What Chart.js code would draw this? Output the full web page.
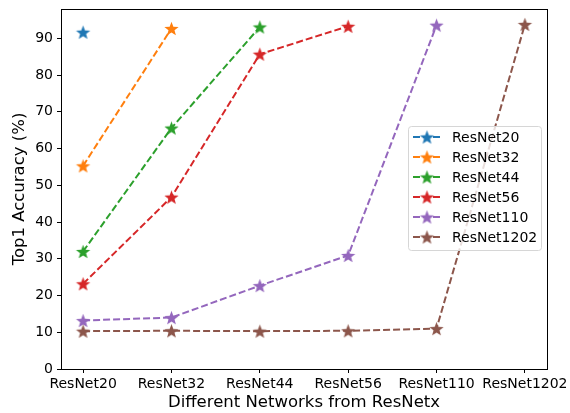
<!DOCTYPE html>
<html>
<head>
<meta charset="utf-8">
<script src="https://cdn.jsdelivr.net/npm/chart.js@4.4.0/dist/chart.umd.min.js"></script>
<style>
  html, body { margin: 0; padding: 0; background: #fff; }
  #wrap { width: 570px; height: 413px; }
</style>
</head>
<body>
<div id="wrap"><canvas id="acc" width="570" height="413"></canvas></div>
<script>
// networks on the x axis
const networks = ["ResNet20", "ResNet32", "ResNet44", "ResNet56", "ResNet110", "ResNet1202"];

// top1 accuracy per trained model, evaluated on each network
const resnet20 = [91.7];
const resnet32 = [55.3, 92.7];
const resnet44 = [32.0, 65.6, 93.1];
const resnet56 = [23.2, 46.8, 85.7, 93.3];
const resnet110 = [13.2, 14.0, 22.7, 30.9, 93.6];
const resnet1202 = [10.3, 10.4, 10.3, 10.4, 11.0, 93.8];

const yTicks = [0, 10, 20, 30, 40, 50, 60, 70, 80, 90];

const seriesNames = ["ResNet20", "ResNet32", "ResNet44", "ResNet56", "ResNet110", "ResNet1202"];
const seriesValues = [resnet20, resnet32, resnet44, resnet56, resnet110, resnet1202];
const colors = ["#1f77b4", "#ff7f0e", "#2ca02c", "#d62728", "#9467bd", "#8c564b"];

const FONT = "'DejaVu Sans', sans-serif";

// filled five-point star, like matplotlib marker "*"
const makeStar = (color, r) => {
    let c = document.createElement("canvas");
    let size = Math.ceil(r * 2 + 2);
    c.width = size;
    c.height = size;
    let ctx = c.getContext("2d");
    let cx = size / 2, cy = size / 2 + r * 0.1;
    let inner = r * 0.42;
    ctx.beginPath();
    for (let i = 0; i < 10; i++) {
        let rad = i % 2 === 0 ? r : inner;
        let a = -Math.PI / 2 + i * Math.PI / 5;
        let px = cx + rad * Math.cos(a);
        let py = cy + rad * Math.sin(a);
        if (i === 0) ctx.moveTo(px, py); else ctx.lineTo(px, py);
    }
    ctx.closePath();
    ctx.fillStyle = color;
    ctx.fill();
    return c;
};

const stars = colors.map((c) => makeStar(c, 7.5));

let datasets = seriesValues.map((vals, i) => ({
    label: seriesNames[i],
    data: vals.map((v, j) => ({ x: j, y: v })),
    borderColor: colors[i],
    backgroundColor: colors[i],
    borderWidth: 2,
    borderDash: [7, 3],
    pointStyle: stars[i],
    pointRadius: 7,
    order: seriesNames.length - i,
}));

// frame around the plot area
const framePlugin = {
    id: "frame",
    afterDatasetsDraw(chart) {
        let { ctx, chartArea: a } = chart;
        ctx.save();
        ctx.strokeStyle = "#000";
        ctx.lineWidth = 1;
        ctx.strokeRect(Math.round(a.left) + 0.5, Math.round(a.top) + 0.5,
            Math.round(a.right - a.left), Math.round(a.bottom - a.top));
        ctx.restore();
    },
};

// legend box inside the plot, right side
const legendPlugin = {
    id: "insideLegend",
    afterDatasetsDraw(chart) {
        let { ctx, chartArea: a } = chart;
        let boxW = 133, rowH = 20;
        let boxH = rowH * seriesNames.length + 4;
        let x0 = a.right - 6 - boxW;
        let y0 = 126;
        ctx.save();
        ctx.beginPath();
        ctx.roundRect(x0 + 0.5, y0 + 0.5, boxW, boxH, 3);
        ctx.fillStyle = "rgba(255,255,255,0.8)";
        ctx.fill();
        ctx.strokeStyle = "#d6d6d6";
        ctx.lineWidth = 1;
        ctx.stroke();
        ctx.font = "14px " + FONT;
        ctx.textBaseline = "middle";
        seriesNames.forEach((name, i) => {
            let y = y0 + 11 + i * rowH;
            ctx.strokeStyle = colors[i];
            ctx.lineWidth = 2;
            ctx.setLineDash([7, 3]);
            ctx.beginPath();
            ctx.moveTo(x0 + 5, y);
            ctx.lineTo(x0 + 33, y);
            ctx.stroke();
            ctx.setLineDash([]);
            let s = stars[i];
            ctx.drawImage(s, x0 + 19 - s.width / 2, y - s.height / 2);
            ctx.fillStyle = "#000";
            ctx.fillText(name, x0 + 44, y + 1);
        });
        ctx.restore();
    },
};

let ctx = document.getElementById("acc").getContext("2d");

let myChart = new Chart(ctx, {
    type: "line",
    data: { datasets: datasets },
    options: {
        responsive: false,
        animation: false,
        layout: { padding: { left: 10, right: 23, top: 7, bottom: 0 } },
        plugins: {
            legend: { display: false },
            tooltip: { enabled: false },
        },
        scales: {
            x: {
                type: "linear",
                min: -0.25,
                max: 5.25,
                afterBuildTicks: (axis) => {
                    axis.ticks = networks.map((n, i) => ({ value: i }));
                },
                afterFit: (axis) => {
                    axis.height = 44;
                    axis.paddingLeft = 0;
                    axis.paddingRight = 0;
                },
                ticks: {
                    autoSkip: false,
                    maxRotation: 0,
                    color: "#000",
                    padding: 3,
                    font: { family: FONT, size: 14 },
                    callback: (v) => networks[v],
                },
                grid: { drawOnChartArea: false, drawTicks: true, tickLength: 4, color: "#000" },
                border: { display: true, color: "#000" },
                title: {
                    display: true,
                    text: "Different Networks from ResNetx",
                    color: "#000",
                    padding: { top: 0, bottom: 0 },
                    font: { family: FONT, size: 16.5 },
                },
            },
            y: {
                min: 0,
                max: 98,
                afterBuildTicks: (axis) => {
                    axis.ticks = yTicks.map((v) => ({ value: v }));
                },
                afterFit: (axis) => {
                    axis.width = 51;
                    axis.paddingTop = 0;
                    axis.paddingBottom = 0;
                },
                ticks: {
                    color: "#000",
                    padding: 4,
                    font: { family: FONT, size: 14 },
                },
                grid: { drawOnChartArea: false, drawTicks: true, tickLength: 4, color: "#000" },
                border: { display: true, color: "#000" },
                title: {
                    display: true,
                    text: "Top1 Accuracy (%)",
                    color: "#000",
                    padding: { top: 0, bottom: 0 },
                    font: { family: FONT, size: 16.5 },
                },
            },
        },
    },
    plugins: [framePlugin, legendPlugin],
});
</script>
</body>
</html>
